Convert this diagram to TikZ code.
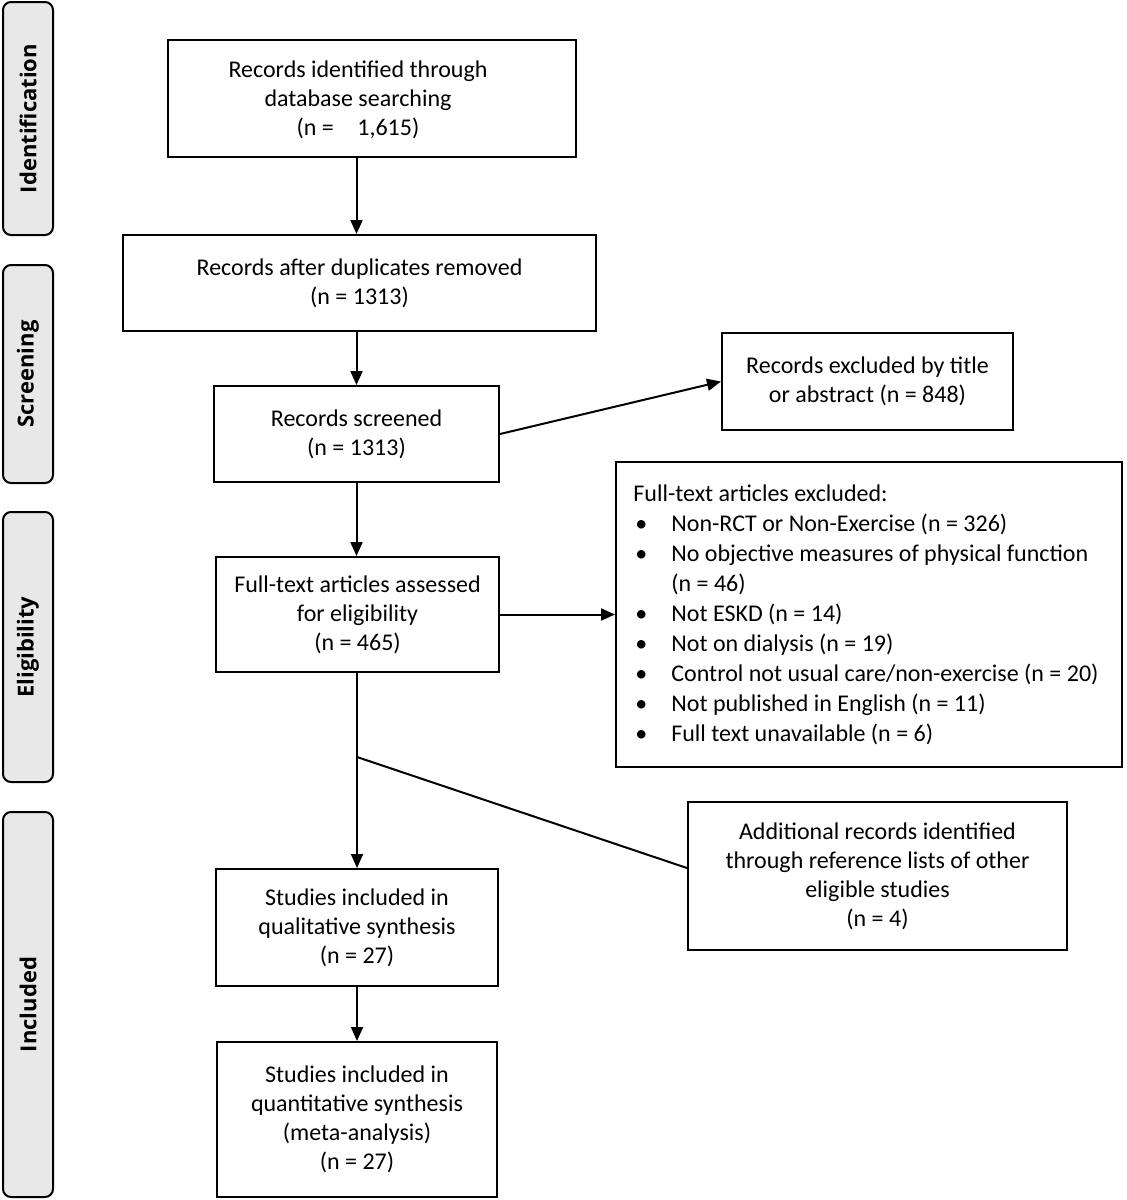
\documentclass[tikz,border=0pt]{standalone}
\usepackage{fontspec}
\setmainfont{Carlito}
\newfontfamily\sidefont{Open Sans}
\usetikzlibrary{arrows.meta,calc}
\definecolor{sidegray}{HTML}{E8E8E8}
\begin{document}
\begin{tikzpicture}[x=0.5pt,y=-0.5pt,
  font=\fontsize{12}{14.5}\selectfont,
  box/.style={draw=black,line width=1pt,fill=white,align=center,inner sep=2pt},
  side/.style={draw=black,line width=1pt,fill=sidegray,rounded corners=4pt,minimum width=25pt},
  sidelabel/.style={rotate=90,font=\sidefont\bfseries\fontsize{11}{13}\selectfont},
  arr/.style={line width=1pt,-{Triangle[length=7pt,width=6pt]}},
  ln/.style={line width=1pt}]
\useasboundingbox (0,0) rectangle (1126,1200);
% side panels
\node[side,minimum height=116.5pt] (sI) at (28,118.5) {};
\node[sidelabel] (lI) at (sI) {Identification};
\node[side,minimum height=109pt] (sS) at (28,374) {};
\node[sidelabel] (lS) at (sS) {Screening};
\node[side,minimum height=135pt] (sE) at (28,647) {};
\node[sidelabel] (lE) at (sE) {Eligibility};
\node[side,minimum height=192.5pt] (sN) at (28,1004.5) {};
\node[sidelabel] (lN) at (sN) {Included};
% main boxes
\node[box,minimum width=204pt,minimum height=58.5pt] (b1) at (372,98.5) {};
\node[align=center,inner sep=0pt] (b1t) at (358,100)
  {Records identified through\\database searching\\(n = \hspace{0.75em}1,615)};
\node[box,minimum width=236.5pt,minimum height=48pt] (b2) at (359.5,283)
  {Records after duplicates removed\\(n = 1313)};
\node[box,minimum width=142.5pt,minimum height=48pt] (b3) at (356.5,434)
  {Records screened\\(n = 1313)};
\node[box,minimum width=145.5pt,minimum height=48.5pt] (x1) at (867.5,381.5)
  {Records excluded by title\\or abstract (n = 848)};
\node[box,minimum width=141.5pt,minimum height=57.5pt] (b4) at (357.5,614.5)
  {Full-text articles assessed\\for eligibility\\(n = 465)};
\node[box,minimum width=253pt,minimum height=152.5pt] (x2) at (869,614.5) {};
\node[anchor=north west,inner sep=0pt,align=left,font=\fontsize{12}{15}\selectfont] (x2t) at (633,484)
  {Full-text articles excluded:\\
   \makebox[19pt][l]{\hspace{1pt}\textbullet}Non-RCT or Non-Exercise (n = 326)\\
   \makebox[19pt][l]{\hspace{1pt}\textbullet}No objective measures of physical function\\
   \hspace*{19pt}(n = 46)\\
   \makebox[19pt][l]{\hspace{1pt}\textbullet}Not ESKD (n = 14)\\
   \makebox[19pt][l]{\hspace{1pt}\textbullet}Not on dialysis (n = 19)\\
   \makebox[19pt][l]{\hspace{1pt}\textbullet}Control not usual care/non-exercise (n = 20)\\
   \makebox[19pt][l]{\hspace{1pt}\textbullet}Not published in English (n = 11)\\
   \makebox[19pt][l]{\hspace{1pt}\textbullet}Full text unavailable (n = 6)};
\node[box,minimum width=141pt,minimum height=58.5pt] (b5) at (357,927.5)
  {Studies included in\\qualitative synthesis\\(n = 27)};
\node[box,minimum width=189.5pt,minimum height=74pt] (ad) at (877.5,876)
  {Additional records identified\\through reference lists of other\\eligible studies\\(n = 4)};
\node[box,minimum width=140pt,minimum height=77.5pt] (b6) at (357,1119.5)
  {Studies included in\\quantitative synthesis\\(meta-analysis)\\(n = 27)};
% connectors
\coordinate (j) at (357,757);
\draw[arr] (b1.south -| b3.north) -- (b2.north -| b3.north);
\draw[arr] (b2.south -| b3.north) -- (b3.north);
\draw[arr] (b3.east) -- (x1.west);
\draw[arr] (b3.south) -- (b4.north -| b3.south);
\draw[arr] (b4.east) -- (x2.west);
\draw[arr] (b4.south -| b5.north) -- (b5.north);
\draw[arr] (b5.south) -- (b6.north);
\draw[ln] (j) -- ([yshift=4pt]ad.west);
\end{tikzpicture}
\end{document}
